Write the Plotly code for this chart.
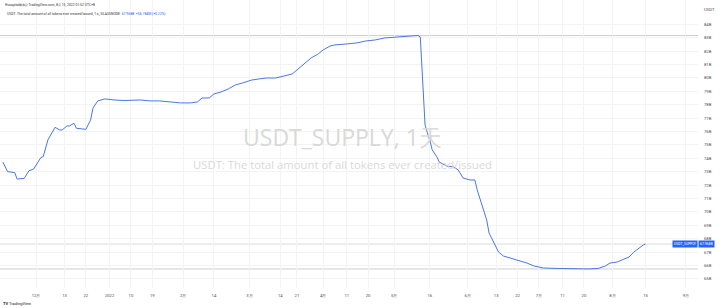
import plotly.graph_objects as go

# ---- data ----
dates = [
    "2021-11-17", "2021-11-19", "2021-11-22", "2021-11-23", "2021-11-26", "2021-11-28",
    "2021-11-30", "2021-12-03", "2021-12-04", "2021-12-06", "2021-12-09", "2021-12-11",
    "2021-12-12", "2021-12-14", "2021-12-15", "2021-12-17", "2021-12-18", "2021-12-22",
    "2021-12-24", "2021-12-25", "2021-12-27", "2021-12-30", "2022-01-03", "2022-01-07",
    "2022-01-14", "2022-01-18", "2022-01-22", "2022-01-26", "2022-01-31", "2022-02-04",
    "2022-02-07", "2022-02-09", "2022-02-12", "2022-02-14", "2022-02-17", "2022-02-20",
    "2022-02-23", "2022-02-26", "2022-03-02", "2022-03-05", "2022-03-08", "2022-03-12",
    "2022-03-16", "2022-03-19", "2022-03-21", "2022-03-24", "2022-03-27", "2022-03-30",
    "2022-04-01", "2022-04-04", "2022-04-06", "2022-04-11", "2022-04-15", "2022-04-19",
    "2022-04-23", "2022-04-27", "2022-05-02", "2022-05-06", "2022-05-09", "2022-05-11",
    "2022-05-12", "2022-05-13", "2022-05-14", "2022-05-15", "2022-05-16", "2022-05-17",
    "2022-05-19", "2022-05-20", "2022-05-23", "2022-05-26", "2022-05-28", "2022-05-30",
    "2022-06-02", "2022-06-04", "2022-06-05", "2022-06-07", "2022-06-09", "2022-06-10",
    "2022-06-12", "2022-06-14", "2022-06-16", "2022-06-19", "2022-06-22", "2022-06-26",
    "2022-06-29", "2022-07-03", "2022-07-09", "2022-07-16", "2022-07-22", "2022-07-26",
    "2022-07-29", "2022-07-31", "2022-08-03", "2022-08-05", "2022-08-08", "2022-08-10",
    "2022-08-12", "2022-08-14", "2022-08-15",
]
supply_b = [
    73.72, 73.00, 72.93, 72.45, 72.50, 73.07,
    73.20, 74.05, 74.12, 75.37, 76.31, 76.11,
    76.11, 76.41, 76.41, 76.61, 76.24, 76.16,
    76.86, 77.75, 78.28, 78.43, 78.35, 78.31,
    78.35, 78.28, 78.28, 78.20, 78.13, 78.13,
    78.20, 78.50, 78.50, 78.80, 78.95, 79.17,
    79.47, 79.62, 79.84, 79.92, 79.99, 79.99,
    80.14, 80.29, 80.59, 81.04, 81.49, 81.79,
    82.08, 82.38, 82.46, 82.53, 82.60, 82.75,
    82.83, 82.98, 83.05, 83.09, 83.13, 83.16,
    83.05, 79.84, 76.49, 75.89, 75.37, 74.63,
    74.10, 73.72, 73.43, 73.35, 73.13, 72.53,
    72.38, 72.38, 71.63, 70.51, 69.39, 68.42,
    67.75, 67.00, 66.71, 66.56, 66.41, 66.18,
    65.96, 65.81, 65.78, 65.74, 65.74, 65.78,
    65.96, 66.18, 66.26, 66.41, 66.63, 67.00,
    67.30, 67.53, 67.60,
]

x_tick_vals = [
    "2021-12-01", "2021-12-13", "2021-12-22", "2022-01-01", "2022-01-10", "2022-01-19",
    "2022-02-01", "2022-02-14", "2022-03-01", "2022-03-14", "2022-03-21", "2022-04-01",
    "2022-04-11", "2022-04-20", "2022-05-01", "2022-05-16", "2022-06-01", "2022-06-13",
    "2022-06-22", "2022-07-01", "2022-07-11", "2022-07-20", "2022-08-01", "2022-08-15",
    "2022-09-01",
]
x_tick_text = [
    "12月", "13", "22", "2022", "10", "19", "2月", "14", "3月", "14", "21", "4月",
    "11", "20", "5月", "16", "6月", "13", "22", "7月", "11", "20", "8月", "15", "9月",
]
y_tick_vals = list(range(65, 85))
y_tick_text = [f"{v}B" for v in y_tick_vals]

series_name = "USDT_SUPPLY"
last_label = "67.968B"

# ---- figure ----
W, H = 720, 308
ML, MR, MT, MB = 0, 22, 0, 20
PH = H - MT - MB

fig = go.Figure()
fig.add_trace(go.Scatter(
    x=dates, y=supply_b, mode="lines",
    line=dict(color="#4a77e3", width=1),
    hoverinfo="skip", showlegend=False,
))

hi, lo, last = max(supply_b), min(supply_b), supply_b[-1]
for v, col in [(hi, "#cfcfcf"), (lo, "#cfcfcf"), (last, "#dadada")]:
    fig.add_shape(type="line", xref="paper", x0=0, x1=1, yref="y", y0=v, y1=v,
                  line=dict(color=col, width=1), layer="below")

small = dict(family="Roboto, Arial, sans-serif", size=4.2, color="#4a4a4a")

annotations = [
    # watermark
    dict(text="USDT_SUPPLY, 1天", x=0.49, y=1 - 137 / PH, xref="paper", yref="paper",
         showarrow=False, font=dict(family="Open Sans, Arial, sans-serif", size=23, color="#d9d9d9")),
    dict(text="USDT: The total amount of all tokens ever created/issued", x=0.491, y=1 - 164 / PH,
         xref="paper", yref="paper", showarrow=False,
         font=dict(family="Open Sans, Arial, sans-serif", size=11.3, color="#d9d9d9")),
    # header
    dict(text="Hucapital發佈於TradingView.com, 8月 15, 2022 01:52 UTC+8", x=0.004, y=1 - 5 / PH,
         xref="paper", yref="paper", xanchor="left", yanchor="middle", showarrow=False,
         font=dict(family="Roboto, Arial, sans-serif", size=3.4, color="#333")),
    dict(text="USDT: The total amount of all tokens ever created/issued, 1天, GLASSNODE  "
              "<span style='color:#2962ff'>67.968B  +56.784M (+0.22%)</span>",
         x=0.007, y=1 - 14 / PH, xref="paper", yref="paper", xanchor="left", yanchor="middle",
         showarrow=False, font=dict(family="Roboto, Arial, sans-serif", size=3.4, color="#333")),
    # top-right currency
    dict(text="USDT", x=1, y=1 - 10 / PH, xref="paper", yref="paper", xanchor="left",
         yanchor="middle", xshift=4, showarrow=False, font=small),
    # price labels
    dict(text=series_name, x=1, y=last, xref="paper", yref="y", xanchor="right", yanchor="middle",
         showarrow=False, bgcolor="#2962ff", borderpad=1,
         font=dict(family="Roboto, Arial, sans-serif", size=3.4, color="white")),
    dict(text=last_label, x=1, y=last, xref="paper", yref="y", xanchor="left", yanchor="middle",
         showarrow=False, bgcolor="#2962ff", borderpad=1,
         font=dict(family="Roboto, Arial, sans-serif", size=3.4, color="white")),
    # logo
    dict(text="<b>TV</b> TradingView", x=0.002, y=-(303 - PH) / PH, xref="paper", yref="paper",
         xanchor="left", yanchor="middle", showarrow=False,
         font=dict(family="Roboto, Arial, sans-serif", size=4, color="#222")),
]

fig.update_layout(
    width=W, height=H,
    margin=dict(l=ML, r=MR, t=MT, b=MB),
    paper_bgcolor="white", plot_bgcolor="white",
    annotations=annotations,
    xaxis=dict(
        type="date", range=["2021-11-15 19:00", "2022-09-06 02:00"],
        tickmode="array", tickvals=x_tick_vals, ticktext=x_tick_text,
        tickfont=small, showgrid=True, gridcolor="#f3f3f3", gridwidth=1,
        zeroline=False, showline=False, ticks="", ticklabelstandoff=4,
    ),
    yaxis=dict(
        side="right", range=[64.32, 85.81],
        tickmode="array", tickvals=y_tick_vals, ticktext=y_tick_text,
        tickfont=small, showgrid=True, gridcolor="#f3f3f3", gridwidth=1,
        zeroline=False, showline=False, ticks="", ticklabelstandoff=5,
    ),
)

fig.write_html("out.html")
